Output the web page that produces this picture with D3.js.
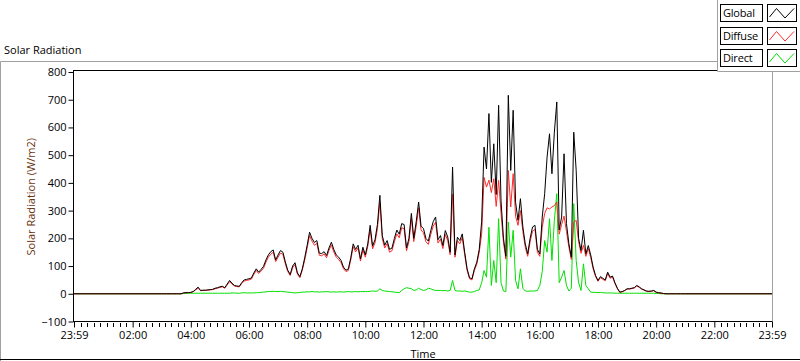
<!DOCTYPE html>
<html>
<head>
<meta charset="utf-8">
<script src="https://cdn.jsdelivr.net/npm/d3@7"></script>
<style>
  body { margin: 0; background: #ffffff; }
  svg text { font-family: "Segoe UI", "Open Sans", sans-serif; }
</style>
</head>
<body>
<div id="vis"></div>
<script>
// readings every 5 minutes from 03:00, one row per hour (W/m2)
const sampleStart = 180, sampleStep = 5;

const globalRad = [
  0, 0, 0, 0, 0, 0, 0, 0, 0, 3, 4, 4,
  5, 8, 16, 24, 12, 13, 13, 14, 15, 16, 20, 22,
  25, 27, 22, 35, 48, 38, 30, 28, 27, 40, 50, 52,
  54, 57, 75, 90, 78, 88, 99, 122, 140, 152, 158, 122,
  140, 156, 150, 115, 85, 70, 100, 112, 75, 62, 90, 130,
  175, 222, 200, 185, 192, 147, 145, 152, 138, 165, 186, 160,
  140, 132, 120, 96, 85, 90, 130, 180, 160, 175, 126, 168,
  140, 180, 247, 172, 195, 250, 355, 210, 175, 192, 160, 165,
  200, 230, 215, 253, 250, 165, 200, 290, 200, 260, 331, 244,
  235, 200, 190, 228, 260, 277, 195, 210, 174, 228, 205, 150,
  457, 140, 204, 192, 216, 150, 90, 58, 54, 90, 114, 160,
  260, 529, 450, 650, 402, 541, 358, 680, 335, 200, 135, 716,
  445, 662, 330, 265, 343, 241, 180, 144, 200, 241, 247, 160,
  144, 277, 361, 493, 577, 433, 583, 692, 230, 277, 505, 253,
  180, 132, 583, 445, 200, 156, 229, 144, 174, 140, 96, 66,
  48, 62, 56, 50, 78, 60, 64, 40, 20, 6, 8, 12,
  18, 18, 20, 22, 30, 25, 18, 14, 10, 9, 10, 12,
  6, 4, 3, 1, 0, 0, 0, 0, 0, 0, 0, 0,
  0
];

const diffuseRad = [
  0, 0, 0, 0, 0, 0, 0, 0, 0, 3, 4, 4,
  5, 8, 14, 20, 11, 12, 12, 13, 14, 15, 18, 20,
  23, 25, 20, 32, 44, 35, 28, 26, 25, 37, 46, 48,
  50, 53, 70, 84, 73, 82, 92, 114, 132, 143, 150, 116,
  132, 147, 142, 108, 80, 66, 94, 105, 70, 58, 85, 122,
  165, 210, 190, 175, 182, 139, 137, 144, 130, 156, 176, 151,
  132, 124, 112, 90, 80, 84, 122, 170, 151, 165, 118, 158,
  132, 170, 232, 162, 184, 235, 330, 198, 165, 181, 150, 155,
  188, 216, 202, 238, 235, 155, 188, 272, 188, 244, 310, 230,
  220, 188, 178, 214, 244, 258, 183, 197, 163, 214, 192, 141,
  360, 132, 192, 180, 203, 141, 84, 54, 50, 84, 107, 150,
  215, 420, 385, 410, 365, 415, 315, 409, 290, 185, 125, 445,
  313, 433, 280, 247, 300, 225, 168, 135, 188, 226, 232, 150,
  135, 240, 290, 310, 306, 313, 318, 331, 215, 250, 280, 225,
  168, 124, 258, 265, 188, 146, 175, 135, 163, 131, 90, 62,
  45, 58, 52, 47, 73, 56, 60, 37, 18, 5, 7, 11,
  17, 17, 19, 21, 28, 23, 17, 13, 9, 8, 9, 11,
  5, 3, 2, 1, 0, 0, 0, 0, 0, 0, 0, 0,
  0
];

const directRad = [
  0, 0, 0, 0, 0, 0, 0, 0, 0, 1, 2, 2,
  2, 2, 2, 2, 2, 2, 2, 2, 2, 2, 2, 2,
  2, 2, 2, 2, 2, 3, 3, 2, 2, 3, 4, 3,
  3, 3, 3, 4, 4, 5, 6, 7, 8, 8, 9, 8,
  8, 9, 8, 7, 6, 5, 4, 3, 4, 5, 6, 6,
  7, 7, 8, 7, 7, 6, 7, 7, 8, 7, 6, 7,
  6, 7, 7, 6, 7, 8, 7, 7, 8, 7, 8, 8,
  8, 8, 9, 10, 9, 10, 18, 12, 10, 9, 8, 7,
  6, 5, 4, 12, 18, 22, 20, 18, 12, 14, 20, 15,
  12, 14, 20, 18, 14, 12, 12, 12, 11, 12, 10, 12,
  48, 12, 10, 10, 9, 10, 8, 6, 6, 8, 12, 14,
  40, 84, 60, 240, 30, 120, 40, 271, 40, 10, 8, 259,
  132, 229, 48, 18, 90, 20, 10, 9, 10, 10, 10, 12,
  30, 80, 192, 150, 271, 120, 265, 361, 40, 60, 84, 30,
  10, 20, 325, 120, 40, 12, 108, 30, 18, 6, 5, 5,
  4, 5, 4, 3, 3, 3, 3, 2, 2, 2, 2, 2,
  2, 2, 2, 2, 2, 2, 2, 2, 2, 2, 2, 2,
  1, 1, 0, 0, 0, 0, 0, 0, 0, 0, 0, 0,
  0
];

const seriesNames = ["Global", "Diffuse", "Direct"];
const seriesColors = ["#000000", "#ff2a2a", "#00e000"];

const yTicks = [-100, 0, 100, 200, 300, 400, 500, 600, 700, 800];
// minutes after midnight; axis runs 23:59 -> 23:59
const xTickMinutes = [-1, 120, 240, 360, 480, 600, 720, 840, 960, 1080, 1200, 1320, 1439];
const xTickLabels = ["23:59", "02:00", "04:00", "06:00", "08:00", "10:00", "12:00",
                     "14:00", "16:00", "18:00", "20:00", "22:00", "23:59"];

const W = 800, H = 361;
const fontSize = 11;

var svg = d3.select("#vis").append("svg")
  .attr("width", W)
  .attr("height", H)
  .style("display", "block");

// outer graph frame
svg.append("path")
  .attr("d", "M0.5,361 V61.5 H717")
  .attr("fill", "none")
  .attr("stroke", "#a0a0a0");
svg.append("line")
  .attr("x1", 0).attr("x2", W)
  .attr("y1", 359.5).attr("y2", 359.5)
  .attr("stroke", "#000");

svg.append("text")
  .attr("x", 4).attr("y", 54)
  .attr("font-size", fontSize)
  .attr("fill", "#000")
  .text("Solar Radiation");

var x = d3.scaleLinear()
  .domain([-1, 1439])
  .range([74, 772]);

var y = d3.scaleLinear()
  .domain([-100, 800])
  .range([321.5, 72]);

// plot frame
svg.append("line")
  .attr("x1", 73.5).attr("x2", 772).attr("y1", 70.5).attr("y2", 70.5)
  .attr("stroke", "#000");
svg.append("line")
  .attr("x1", 772.5).attr("x2", 772.5).attr("y1", 70).attr("y2", 322)
  .attr("stroke", "#a0a0a0");

// y axis
var yAxis = svg.append("g")
  .attr("transform", "translate(73.5,0)")
  .call(d3.axisLeft(y).tickValues(yTicks).tickSize(5).tickPadding(2).tickFormat(d3.format("d")));
yAxis.select(".domain").attr("d", "M0,70 V322");
yAxis.selectAll("text").attr("font-size", fontSize).attr("fill", "#000")
  .style("font-family", "'Segoe UI','Open Sans',sans-serif");

svg.append("text")
  .attr("transform", "translate(35," + ((y(-100) + y(800)) / 2) + ") rotate(-90)")
  .attr("text-anchor", "middle")
  .attr("font-size", fontSize)
  .attr("fill", "#6b3410")
  .text("Solar Radiation (W/m2)");

// x axis: minor ticks, 8 between each pair of labels
var minorTicks = [];
for (var i = 0; i < xTickMinutes.length - 1; i++) {
  var a = xTickMinutes[i], b = xTickMinutes[i + 1];
  for (var k = 1; k < 9; k++) minorTicks.push(a + (b - a) * k / 9);
}

var xAxis = svg.append("g")
  .attr("transform", "translate(0,321.5)")
  .call(d3.axisBottom(x).tickValues(xTickMinutes).tickSize(6).tickPadding(4)
    .tickFormat((d, i) => xTickLabels[i]));
xAxis.select(".domain").attr("d", "M73,0 H772");
xAxis.selectAll("text").attr("font-size", fontSize).attr("fill", "#000")
  .style("font-family", "'Segoe UI','Open Sans',sans-serif");

svg.append("g")
  .selectAll("line")
  .data(minorTicks)
  .enter()
  .append("line")
    .attr("x1", d => Math.round(x(d)) + 0.5)
    .attr("x2", d => Math.round(x(d)) + 0.5)
    .attr("y1", 323)
    .attr("y2", 327)
    .attr("stroke", "#000");

svg.append("text")
  .attr("x", (x(-1) + x(1439)) / 2)
  .attr("y", 358)
  .attr("text-anchor", "middle")
  .attr("font-size", fontSize)
  .attr("fill", "#000")
  .text("Time");

// series: pad with zeros at both ends of the day
function toPoints(values) {
  var pts = [[-1, 0]];
  values.forEach((v, i) => pts.push([sampleStart + i * sampleStep, v]));
  pts.push([1439, 0]);
  return pts;
}

var line = d3.line()
  .x(d => x(d[0]))
  .y(d => y(d[1]));

var seriesData = [globalRad, diffuseRad, directRad];

// drawn back to front so Global sits on top
var plot = svg.append("g");
[2, 1, 0].forEach(function (s) {
  plot.append("path")
    .datum(toPoints(seriesData[s]))
    .attr("fill", "none")
    .attr("stroke", seriesColors[s])
    .attr("stroke-width", 1)
    .attr("d", line);
});

// legend
var legend = svg.append("g");
legend.append("rect")
  .attr("x", 717).attr("y", 0).attr("width", 83).attr("height", 72)
  .attr("fill", "#fff");
legend.append("path")
  .attr("d", "M717.5,0 V71.5 H800")
  .attr("fill", "none")
  .attr("stroke", "#a0a0a0");

var rowH = 22.7;
var item = legend.selectAll("g.item")
  .data(seriesNames)
  .enter()
  .append("g")
    .attr("class", "item")
    .attr("transform", (d, i) => "translate(0," + Math.round(i * rowH) + ")");

item.append("rect")
  .attr("x", 720.5).attr("y", 4.5).attr("width", 42).attr("height", 17)
  .attr("fill", "#fff").attr("stroke", "#000");
item.append("text")
  .attr("x", 723).attr("y", 17)
  .attr("font-size", fontSize)
  .attr("letter-spacing", -0.2)
  .attr("fill", "#000")
  .text(d => d);
item.append("rect")
  .attr("x", 767.5).attr("y", 4.5).attr("width", 29).attr("height", 17)
  .attr("fill", "#fff").attr("stroke", "#000");
item.append("path")
  .attr("d", "M769.5,17 L776.5,8.5 L785,18 L794,8.5")
  .attr("fill", "none")
  .attr("stroke", (d, i) => seriesColors[i])
  .attr("stroke-width", 1);
</script>
</body>
</html>
